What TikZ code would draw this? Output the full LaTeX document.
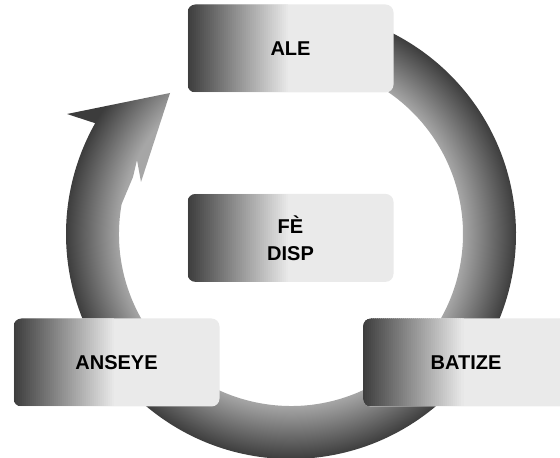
\documentclass[tikz,border=0pt]{standalone}
\usepackage{fontspec}
\setmainfont{Liberation Sans}
\usetikzlibrary{positioning}
\definecolor{ringDark}{HTML}{3C3C3C}
\definecolor{ringLight}{HTML}{A6A6A6}
\definecolor{boxDark}{HTML}{3E3E3E}
\definecolor{boxLight}{HTML}{EAEAEA}
\pgfdeclareradialshading{ringShade}{\pgfpoint{0bp}{0bp}}{color(0bp)=(ringLight); color(16.5bp)=(ringLight); color(21.7bp)=(ringDark); color(50bp)=(ringDark)}
\newcommand{\ringOuter}[0]{225pt}
\newcommand{\ringInner}[0]{172pt}

\begin{document}
\begin{tikzpicture}[x=1pt, y=1pt]
  \tikzset{phase/.style={rounded corners=8pt, minimum width=206pt, minimum height=88pt,
      fill=boxLight, align=center, text=black,
      font=\bfseries\fontsize{20}{27}\selectfont,
      path picture={
        \foreach \i [evaluate=\i as \p using \i*2] in {0,...,49}
          \fill[boxLight!\p!boxDark, rounded corners=0pt]
            ([xshift=\i*2pt]path picture bounding box.south west)
            rectangle ([xshift=\i*2pt+2.6pt]path picture bounding box.north west);}}}
  \useasboundingbox (0,0) rectangle (560,458);
  % the cycle arrow
  \begin{scope}[shift={(291,224)}]
    \clip (95:\ringOuter) arc[start angle=95, end angle=-209.5, radius=\ringOuter]
      -- (-224,120) -- (-121,141) -- (-150,52) -- (-154,74) -- (-158,57)
      -- (-190:\ringInner) arc[start angle=-190, end angle=95, radius=\ringInner] -- cycle;
    \shade[shading=ringShade] (0,0) circle[radius=260pt];
  \end{scope}
  \node[phase] (ale) at (290.5,409.5) {ALE};
  \node[phase, below=101pt of ale] (disp) {FÈ\\DISP};
  \node[phase] (anseye) at (116.5,95.5) {ANSEYE};
  \node[phase] (batize) at (466,95.5) {BATIZE};
\end{tikzpicture}
\end{document}
